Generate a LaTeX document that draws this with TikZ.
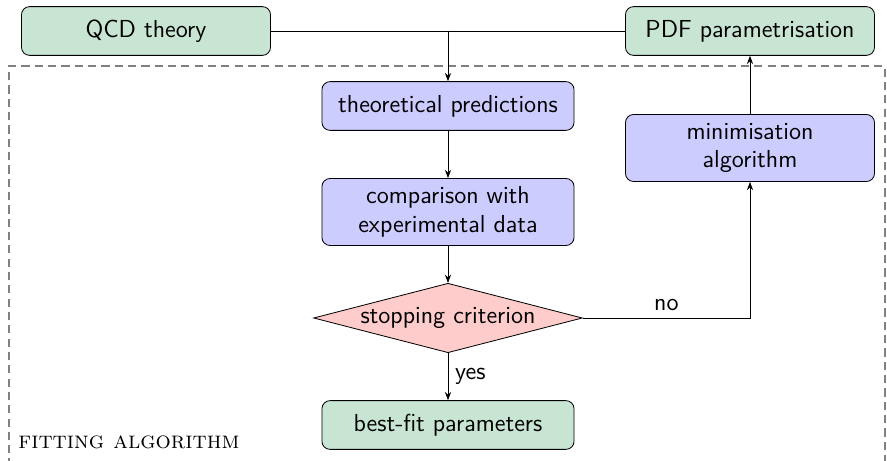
\documentclass[tikz,border=0pt]{standalone}
\usepackage{tikz}
\usetikzlibrary{shapes.geometric,arrows.meta}
\definecolor{boxgreen}{RGB}{200,229,211}
\definecolor{boxblue}{RGB}{204,204,255}
\definecolor{boxred}{RGB}{255,204,204}
\begin{document}
\begin{tikzpicture}[x=0.4878pt,y=-0.4878pt,
  every node/.style={font=\sffamily\large},
  greenbox/.style={draw, rounded corners=4pt, fill=boxgreen, minimum width=121.5pt, minimum height=23.8pt, inner sep=0pt, align=center},
  bluebox/.style={draw, rounded corners=4pt, fill=boxblue, minimum width=123pt, minimum height=23.8pt, inner sep=0pt, align=center},
  decision/.style={draw, diamond, aspect=3.87, fill=boxred, inner sep=0.6pt},
  arr/.style={-{Stealth[length=4pt,width=3pt]}},
  lbl/.style={font=\sffamily\large}
]
\useasboundingbox (0,0) rectangle (887,461);
\draw[gray, dashed, line width=0.6pt, dash pattern=on 4pt off 2.5pt] (9,520) -- (9,66) -- (885,66) -- (885,520);
\node[greenbox] (qcd) at (146,31) {QCD theory};
\node[greenbox] (pdf) at (750,31) {PDF parametrisation};
\node[bluebox] (pred) at (448,106) {theoretical predictions};
\node[bluebox, minimum height=32.7pt] (comp) at (448,212) {comparison with\\experimental data};
\node[decision] (stop) at (448,318) {stopping criterion};
\node[greenbox, minimum width=123pt] (best) at (448,425) {best-fit parameters};
\node[greenbox, fill=boxblue, minimum height=32.7pt] (mini) at (750,148) {minimisation\\algorithm};
\coordinate (join) at (448,31);
\draw (qcd) -- (pdf);
\draw[arr] (join) -- (pred);
\draw[arr] (pred) -- (comp);
\draw[arr] (comp) -- (stop);
\draw[arr] (stop) -- node[right, lbl] {yes} (best);
\draw[arr] (stop) -- node[above, pos=0.5, lbl] {no} (stop -| mini) -- (mini);
\draw[arr] (mini) -- (pdf);
\node[anchor=base west, font=\rmfamily\scshape, scale=1.17] (fit) at (10,449) {fitting algorithm};
\end{tikzpicture}
\end{document}
